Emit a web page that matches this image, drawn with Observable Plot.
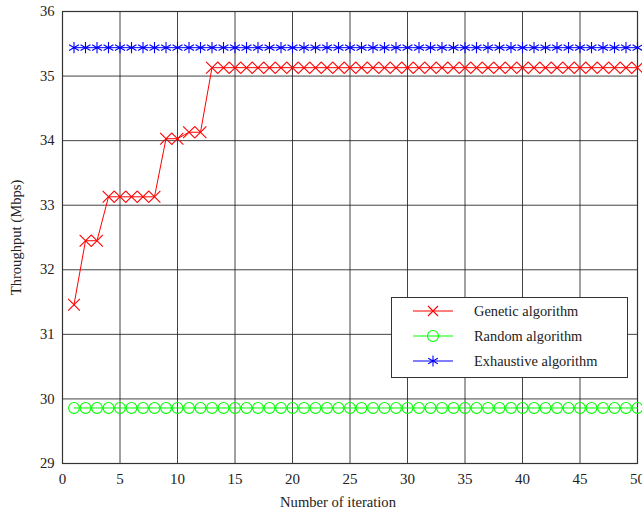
<!DOCTYPE html>
<html><head><meta charset="utf-8">
<script src="https://cdn.jsdelivr.net/npm/d3@7"></script>
<script src="https://cdn.jsdelivr.net/npm/@observablehq/plot@0.6"></script>
<style>
body{margin:0;background:#fff;}
#wrap{position:relative;width:642px;height:512px;}
#legend{position:absolute;left:391px;top:297px;width:235px;height:79px;border:1px solid #333;background:#fff;box-sizing:content-box;}
.row{position:absolute;left:0;height:24px;display:flex;align-items:center;font-size:14.4px;color:#222;}
.row svg{margin-left:21px;margin-right:21px;}
</style></head>
<body><div id="wrap"><div id="legend"></div></div>
<script>
const FONT = "'Liberation Serif', 'Times New Roman', serif";

const iterations = d3.range(1, 51);
const genetic = [31.46,32.45,32.45,33.13,33.13,33.13,33.13,33.13,34.03,34.03,34.13,34.13,
  ...Array(38).fill(35.13)];
const random = Array(50).fill(29.86);
const exhaustive = Array(50).fill(35.44);
const seriesNames = ["Genetic algorithm","Random algorithm","Exhaustive algorithm"];
const seriesColors = ["#ff0000","#00ff00","#0000ff"];
const seriesSymbols = ["times","circle","asterisk"];
const xTicks = [0,5,10,15,20,25,30,35,40,45,50];
const yTicks = [29,30,31,32,33,34,35,36];
const xLabel = "Number of iteration";
const yLabel = "Throughput (Mbps)";

const data = [];
[genetic, random, exhaustive].forEach((vals, s) => {
  vals.forEach((v, i) => data.push({x: iterations[i], y: v, s: seriesNames[s]}));
});

const chart = Plot.plot({
  width: 642, height: 512,
  marginLeft: 62, marginRight: 5, marginTop: 11, marginBottom: 49,
  style: {fontSize: "15px", color: "#222", background: "#fff"},
  x: {domain: [0, 50], label: null},
  y: {domain: [29, 36], label: null},
  color: {domain: seriesNames, range: seriesColors},
  symbol: {domain: seriesNames, range: seriesSymbols},
  marks: [
    Plot.gridX(xTicks, {stroke: "#222", strokeOpacity: 0.85, strokeWidth: 1}),
    Plot.gridY(yTicks, {stroke: "#222", strokeOpacity: 0.85, strokeWidth: 1}),
    Plot.frame({stroke: "#333", strokeWidth: 1.2}),
    Plot.line(data, {x: "x", y: "y", z: "s", stroke: "s", strokeWidth: 1}),
    Plot.dot(data, {x: "x", y: "y", stroke: "s", symbol: "s", r: 5.4, strokeWidth: 1.1, fill: "none"}),
    Plot.axisX({ticks: xTicks, tickFormat: "d", tickSize: 0, tickPadding: 10, label: null, fontSize: 15}),
    Plot.axisY({ticks: yTicks, tickFormat: "d", tickSize: 0, tickPadding: 8, label: yLabel, labelAnchor: "center", labelArrow: "none", labelOffset: 52, fontSize: 14.6}),
    Plot.text([xLabel], {text: d => d, frameAnchor: "bottom", lineAnchor: "middle", dx: -12, dy: 39, fontSize: 14.6, fill: "#222"})
  ]
});
chart.style.fontFamily = FONT;
chart.querySelectorAll("text").forEach(t => { t.style.fontFamily = FONT; });
document.getElementById("wrap").prepend(chart);

const legend = document.getElementById("legend");
const shapes = {
  times: '<path d="M-5,-5L5,5M-5,5L5,-5"/>',
  circle: '<circle r="5.5" fill="none"/>',
  asterisk: '<path d="M0,-5.5L0,5.5M-4.8,-2.75L4.8,2.75M-4.8,2.75L4.8,-2.75"/>'
};
seriesNames.forEach((n, i) => {
  const row = document.createElement("div");
  row.className = "row";
  row.style.top = (1 + i * 25) + "px";
  row.style.fontFamily = FONT;
  row.innerHTML = `<svg width="40" height="16" viewBox="-20 -8 40 16" stroke="${seriesColors[i]}" stroke-width="1.1"><line x1="-20" x2="20" y1="0" y2="0"/>${shapes[seriesSymbols[i]]}</svg><span>${n}</span>`;
  legend.appendChild(row);
});
</script></body></html>
